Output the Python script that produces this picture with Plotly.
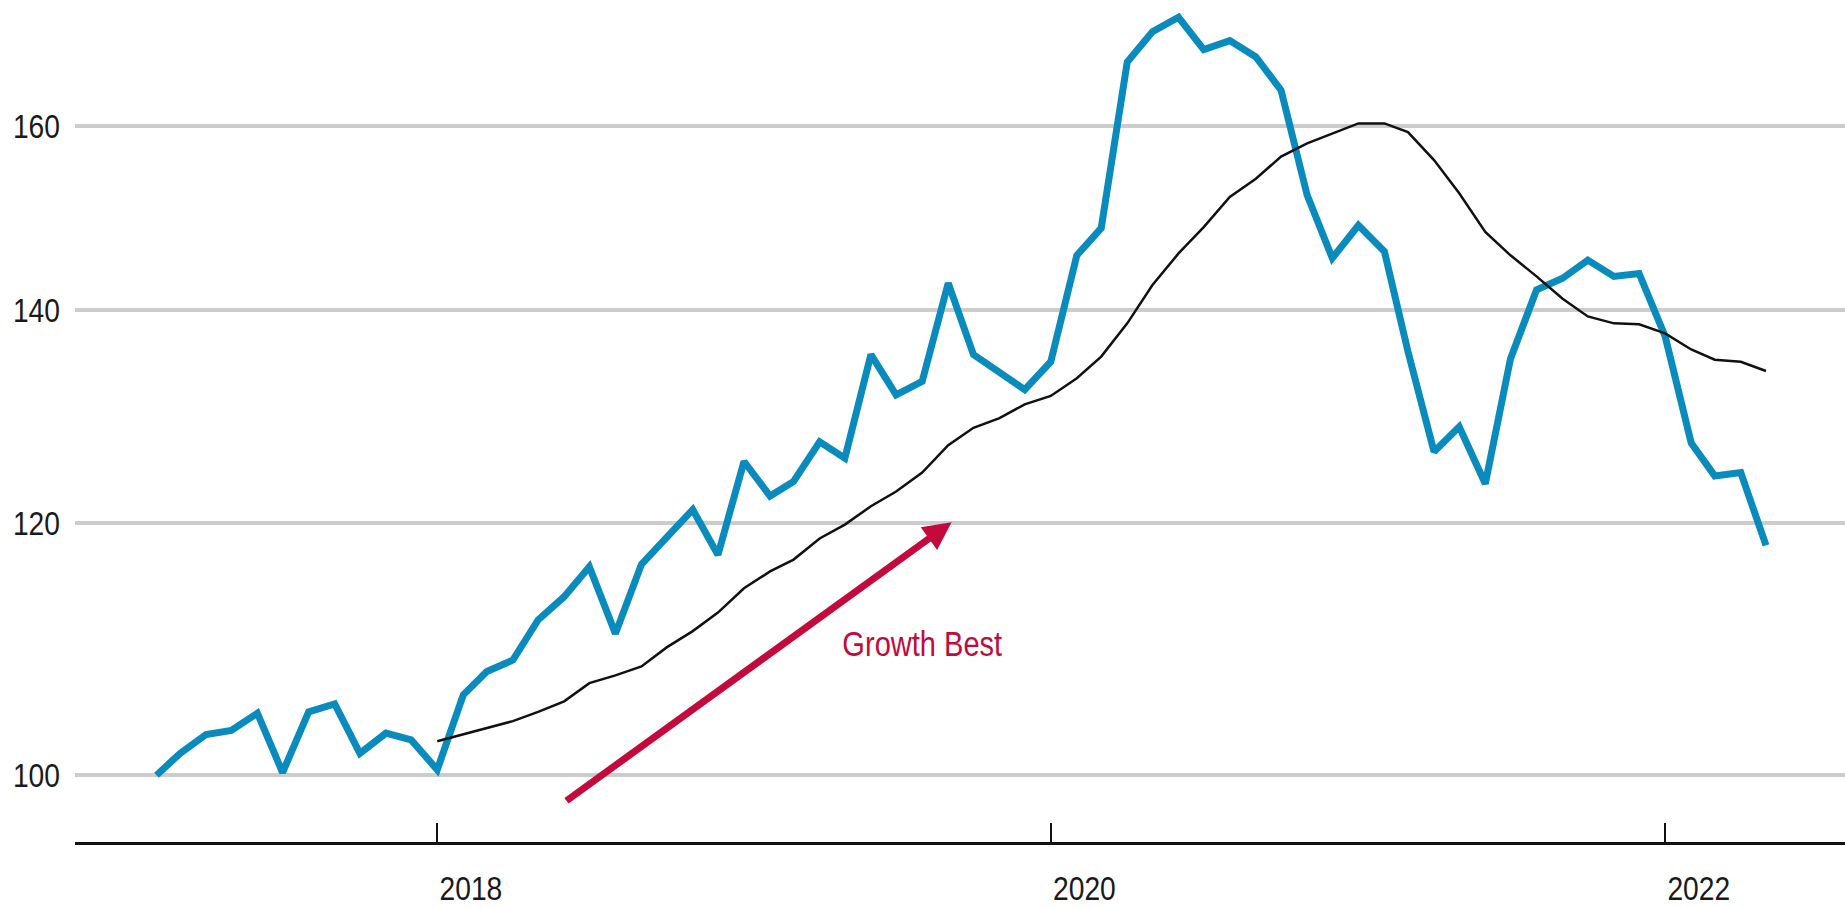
import math
import plotly.graph_objects as go

# Monthly index level (first of each month), Feb 2017 - May 2022
index_months = [
    "2017-02", "2017-03", "2017-04", "2017-05", "2017-06", "2017-07", "2017-08",
    "2017-09", "2017-10", "2017-11", "2017-12",
    "2018-01", "2018-02", "2018-03", "2018-04", "2018-05", "2018-06", "2018-07",
    "2018-08", "2018-09", "2018-10", "2018-11", "2018-12",
    "2019-01", "2019-02", "2019-03", "2019-04", "2019-05", "2019-06", "2019-07",
    "2019-08", "2019-09", "2019-10", "2019-11", "2019-12",
    "2020-01", "2020-02", "2020-03", "2020-04", "2020-05", "2020-06", "2020-07",
    "2020-08", "2020-09", "2020-10", "2020-11", "2020-12",
    "2021-01", "2021-02", "2021-03", "2021-04", "2021-05", "2021-06", "2021-07",
    "2021-08", "2021-09", "2021-10", "2021-11", "2021-12",
    "2022-01", "2022-02", "2022-03", "2022-04", "2022-05",
]
index_values = [
    100.0, 101.6, 103.0, 103.3, 104.6, 100.2, 104.7, 105.3, 101.6, 103.1, 102.6,
    100.4, 106.0, 107.8, 108.7, 111.9, 113.8, 116.3, 110.8, 116.5, 118.8, 121.2, 117.3,
    125.5, 122.4, 123.7, 127.3, 125.8, 135.6, 131.7, 133.0, 142.8, 135.6, 133.9, 132.2,
    134.9, 145.7, 148.6, 167.6, 171.3, 173.1, 169.1, 170.2, 168.2, 164.2, 152.2, 145.4,
    148.9, 146.1, 135.9, 126.4, 128.7, 123.5, 135.2, 142.1, 143.3, 145.2, 143.5, 143.8,
    137.4, 127.2, 124.2, 124.5, 118.1,
]

# Moving average, Jan 2018 - May 2022
avg_months = index_months[11:]
avg_values = [
    102.5, 103.0, 103.5, 104.0, 104.7, 105.5, 106.9, 107.5, 108.2, 109.7, 111.0, 112.5,
    114.5, 115.9, 116.9, 118.7, 119.9, 121.5, 122.8, 124.5, 127.0, 128.6, 129.5, 130.8,
    131.6, 133.3, 135.4, 138.7, 142.6, 145.9, 148.7, 152.0, 154.0, 156.5, 158.0, 159.1,
    160.3, 160.3, 159.3, 156.1, 152.4, 148.2, 145.7, 143.5, 141.2, 139.4, 138.7, 138.6,
    137.7, 136.1, 135.1, 134.9, 134.0,
]

y_ticks = [100, 120, 140, 160]
x_tick_dates = ["2018-01-01", "2020-01-01", "2022-01-01"]
x_tick_text = ["2018", "2020", "2022"]

# Annotation arrow: tail and head (date, value)
arrow_tail = ("2018-06-02", 98.1)
arrow_head = ("2019-09-05", 120.1)
arrow_label = "Growth Best"
label_pos = ("2019-08-01", 110.0)

BLUE = "#0a8bbd"
RED = "#c40a3c"
FONT = "Liberation Sans, Arial, sans-serif"

fig = go.Figure()
fig.add_trace(go.Scatter(
    x=[m + "-01" for m in index_months], y=index_values, mode="lines",
    line=dict(color=BLUE, width=7), showlegend=False, hoverinfo="skip",
))
fig.add_trace(go.Scatter(
    x=[m + "-01" for m in avg_months], y=avg_values, mode="lines",
    line=dict(color="#111111", width=2.5), showlegend=False, hoverinfo="skip",
))

fig.add_annotation(
    x=arrow_head[0], y=math.log10(arrow_head[1]),
    ax=arrow_tail[0], ay=math.log10(arrow_tail[1]),
    xref="x", yref="y", axref="x", ayref="y",
    text="", showarrow=True, arrowhead=2, arrowsize=0.8, arrowwidth=7,
    arrowcolor=RED, standoff=0, startstandoff=0,
)
fig.add_annotation(
    x=label_pos[0], y=math.log10(label_pos[1]), xref="x", yref="y",
    text=arrow_label, showarrow=False,
    font=dict(family=FONT, size=35, color=RED),
)

fig.update_layout(
    width=1845, height=908,
    margin=dict(l=75, r=0, t=0, b=66),
    paper_bgcolor="white", plot_bgcolor="white",
    font=dict(family=FONT, size=34, color="#1a1a1a"),
    xaxis=dict(
        type="date", range=["2016-10-27", "2022-08-03"],
        tickvals=x_tick_dates, ticktext=x_tick_text,
        showgrid=False, zeroline=False,
        showline=True, linecolor="#111111", linewidth=2.5,
        ticks="inside", ticklen=19, tickwidth=2, tickcolor="#111111",
        ticklabelposition="outside right", ticklabelstandoff=14,
    ),
    yaxis=dict(
        type="log", range=[1.97903, 2.24373],
        tickvals=y_ticks, ticktext=[str(v) for v in y_ticks],
        showgrid=True, gridcolor="#cccccc", gridwidth=4,
        zeroline=False, showline=False, ticks="",
        ticklabelstandoff=14,
    ),
)

# Narrow the label glyphs horizontally (condensed lettering)
condense_js = """
(function(){
  var gd = document.getElementById('{plot_id}');
  gd.querySelectorAll('.xtick text, .ytick text, .annotation-text').forEach(function(t){
    var w = t.getComputedTextLength();
    if (w > 0) {
      t.setAttribute('textLength', (w * 0.83).toFixed(2));
      t.setAttribute('lengthAdjust', 'spacingAndGlyphs');
    }
  });
})();
"""

fig.write_html("out.html", post_script=condense_js)
